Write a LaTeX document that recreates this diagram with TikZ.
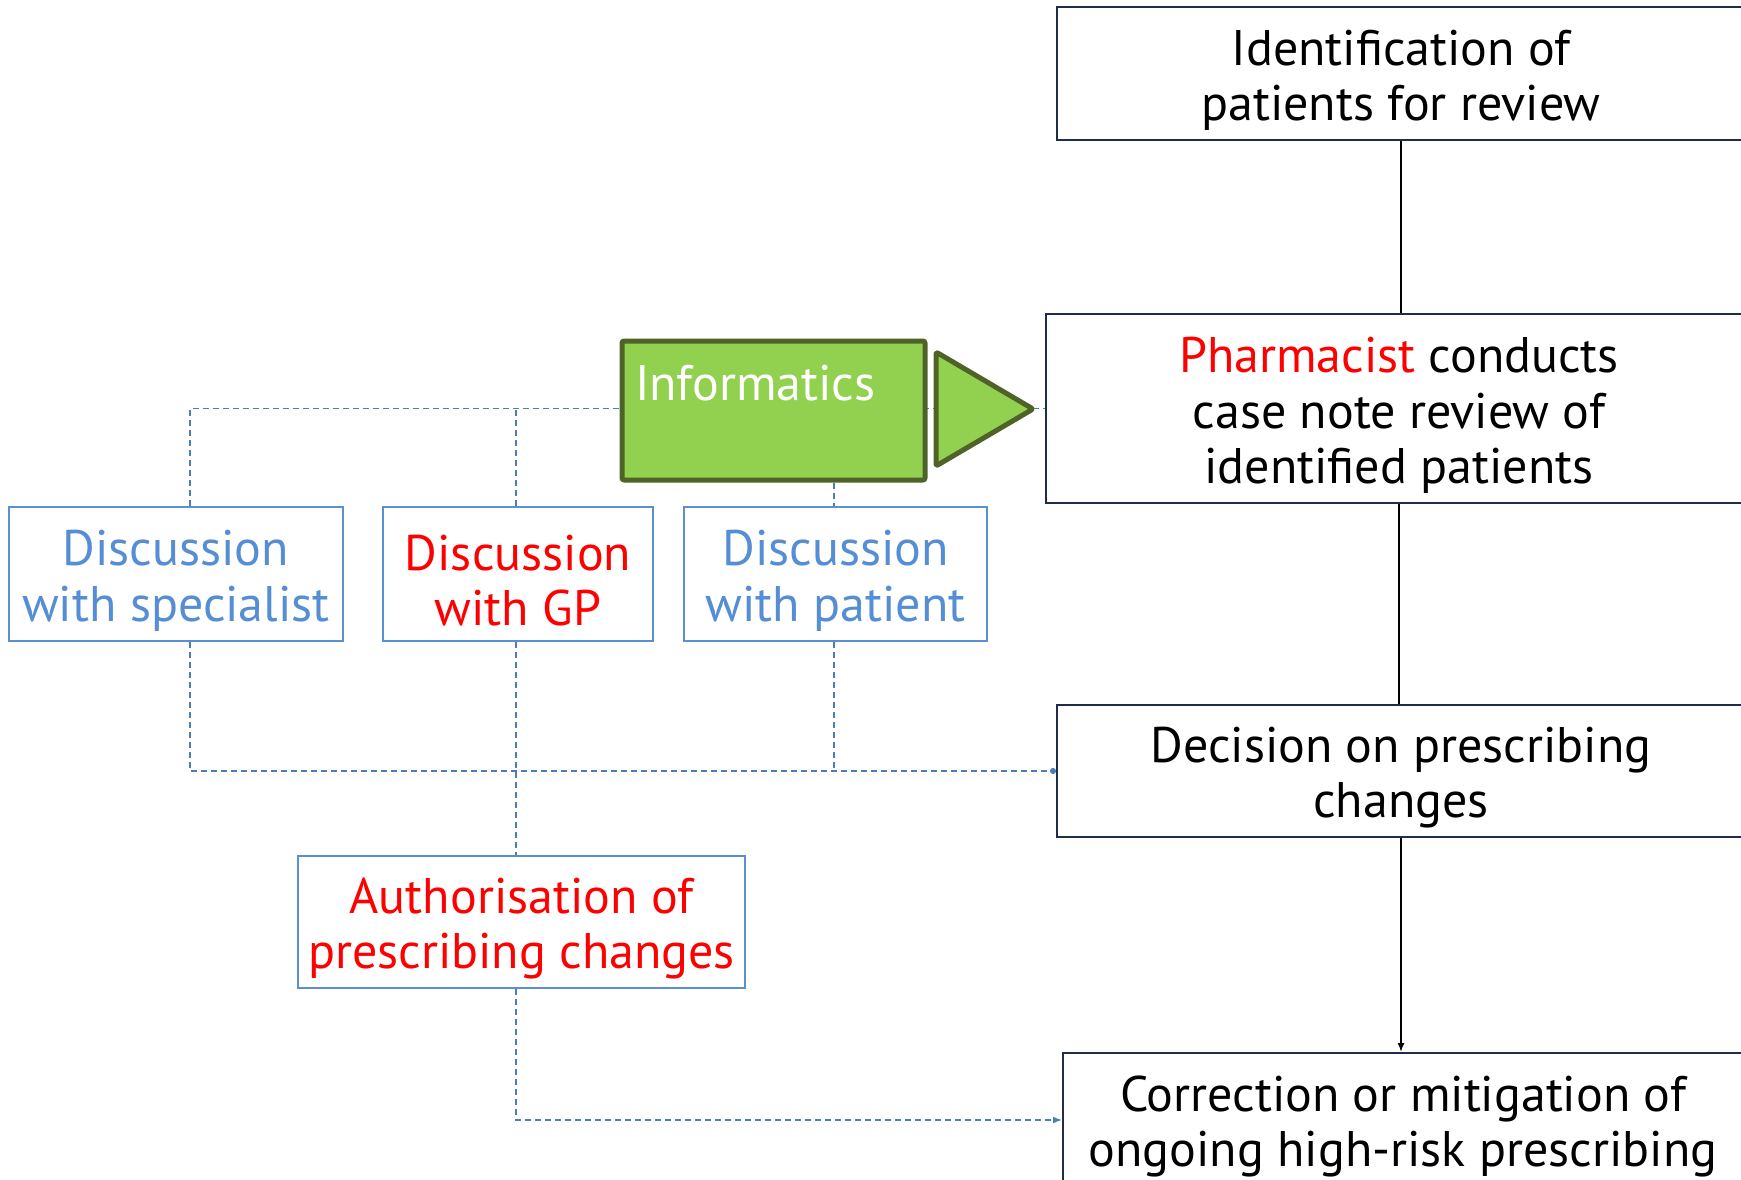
\documentclass[tikz,border=0pt]{standalone}
\usepackage{fontspec}
\setmainfont{PT Sans}
\usetikzlibrary{arrows.meta,calc}
\definecolor{bluetxt}{HTML}{558ED5}
\definecolor{blueline}{HTML}{4A7EBB}
\definecolor{blueedge}{HTML}{5B8FD4}
\definecolor{navy}{HTML}{1F2D4A}
\definecolor{gfill}{HTML}{92D050}
\definecolor{gdraw}{HTML}{4F6228}
\newcommand\mytopstrut{\rule{0pt}{49pt}}
\begin{document}
\begin{tikzpicture}[x=1pt,y=-1pt,
  txt/.style={font=\fontsize{50}{55.5}\selectfont, align=center, inner sep=0pt},
  blackbox/.style={txt, draw=navy, line width=2pt, fill=white},
  bluebox/.style={txt, draw=blueedge, line width=2pt, fill=white},
  dashline/.style={draw=blueline, line width=1.6pt, dash pattern=on 6pt off 4pt},
  solidline/.style={draw=black, line width=1.6pt},
  greenbox/.style={draw=gdraw, fill=gfill, line width=5pt, rounded corners=2pt, line join=round}
]
\useasboundingbox (0,0) rectangle (1741,1180);

% main flow boxes
\node[blackbox, minimum width=688pt, minimum height=133pt] (ident) at (1401,73.5) {\mytopstrut Identification of\\patients for review};
\node[blackbox, minimum width=706pt, minimum height=189pt] (pharm) at (1399,408.5) {\mytopstrut{\color{red}Pharmacist} conducts\\case note review of\\identified patients};
\node[blackbox, minimum width=688pt, minimum height=132pt] (dec) at (1401,771) {\mytopstrut Decision on prescribing\\changes};
\node[blackbox, minimum width=680pt, minimum height=134pt] (corr) at (1403,1120) {\mytopstrut Correction or mitigation of\\ongoing high-risk prescribing};

% side boxes
\node[bluebox, minimum width=334pt, minimum height=134pt, text=bluetxt] (spec) at (176,574) {\mytopstrut Discussion\\with specialist};
\node[bluebox, minimum width=270pt, minimum height=134pt, text=red] (gp) at (518,574) {\mytopstrut Discussion\\with GP};
\node[bluebox, minimum width=303pt, minimum height=134pt, text=bluetxt] (pat) at (835.5,574) {\mytopstrut Discussion\\with patient};
\node[bluebox, minimum width=447pt, minimum height=132pt, text=red] (auth) at (521.5,922) {\mytopstrut Authorisation of\\prescribing changes};

\coordinate (sx) at (190,0);
\coordinate (gx) at (516,0);
\coordinate (px) at (834,0);

% top dashed line (behind informatics)
\draw[dashline] (spec.north -| sx) -- (sx |- pharm.west) -- (pharm.west);
\draw[dashline] (gp.north -| gx) -- (gx |- pharm.west);

% informatics
\node[greenbox, txt, text=white, align=left, text width=277pt, inner xsep=13pt, minimum height=139pt] (info) at (773.5,410.5) {Informatics\\~};
\draw[greenbox] (936,352) -- (1033,409) -- (936,466) -- cycle;

% other dashed connectors
\draw[dashline] (info.south -| px) -- (pat.north -| px);
\draw[dashline, -{Circle[length=6pt]}] (spec.south -| sx) -- (sx |- dec.west) -- (dec.west);
\draw[dashline] (pat.south -| px) -- (px |- dec.west);
\draw[dashline] (gp.south -| gx) -- (auth.north -| gx);
\draw[dashline, -{Latex[length=9pt,width=7pt]}] (auth.south -| gx) -- (gx |- corr.west) -- (corr.west);

% solid connectors
\draw[solidline] (ident.south) -- (ident.south |- pharm.north);
\draw[solidline] (pharm.south) -- (pharm.south |- dec.north);
\draw[solidline, -{Latex[length=9pt,width=7pt]}] (dec.south) -- (dec.south |- corr.north);
\end{tikzpicture}
\end{document}
